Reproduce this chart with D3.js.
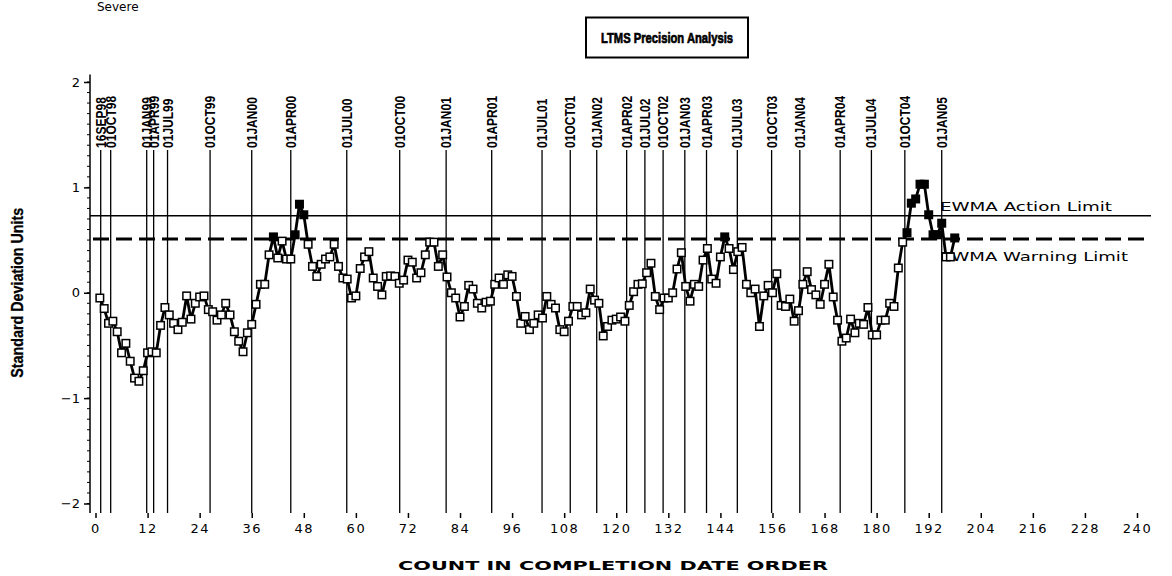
<!DOCTYPE html>
<html>
<head>
<meta charset="utf-8">
<script src="https://cdn.jsdelivr.net/npm/d3@7/dist/d3.min.js"></script>
<style>
  html, body { margin: 0; padding: 0; background: #fff; }
  svg { display: block; }
  .narrow { font-family: "Liberation Sans Narrow", "Arial Narrow", "Liberation Sans", Arial, sans-serif; font-weight: bold; }
  .wide { font-family: "DejaVu Sans", Verdana, sans-serif; }
</style>
</head>
<body>
<svg id="chart" width="1172" height="576"></svg>
<script>
// EWMA of standard deviation units, one value per test in completion order (count 1..198)
const ewmaValues = [
  -0.05, -0.15, -0.29, -0.27, -0.37, -0.57, -0.48, -0.65, -0.81, -0.84,
  -0.74, -0.57, -0.56, -0.57, -0.31, -0.14, -0.21, -0.29, -0.35, -0.28,
  -0.03, -0.25, -0.10, -0.04, -0.03, -0.16, -0.18, -0.26, -0.21, -0.10,
  -0.21, -0.37, -0.46, -0.56, -0.38, -0.30, -0.11, 0.08, 0.08, 0.36,
  0.53, 0.33, 0.49, 0.32, 0.32, 0.55, 0.84, 0.74, 0.46, 0.25,
  0.155, 0.27, 0.32, 0.34, 0.46, 0.25, 0.14, 0.13, -0.05, -0.03,
  0.23, 0.34, 0.39, 0.14, 0.06, -0.02, 0.155, 0.16, 0.155, 0.09,
  0.12, 0.31, 0.29, 0.14, 0.19, 0.36, 0.48, 0.48, 0.25, 0.36,
  0.15, 0.00, -0.05, -0.23, -0.13, 0.07, 0.035, -0.10, -0.145, -0.09,
  -0.08, 0.08, 0.14, 0.08, 0.17, 0.155, -0.035, -0.29, -0.225, -0.35,
  -0.29, -0.21, -0.24, -0.035, -0.11, -0.145, -0.35, -0.37, -0.27, -0.13,
  -0.13, -0.21, -0.19, 0.035, -0.07, -0.10, -0.41, -0.32, -0.26, -0.25,
  -0.23, -0.27, -0.12, 0.01, 0.08, 0.085, 0.19, 0.28, -0.035, -0.16,
  -0.05, -0.05, 0.00, 0.225, 0.38, 0.06, -0.08, 0.08, 0.06, 0.31,
  0.42, 0.13, 0.09, 0.34, 0.53, 0.42, 0.22, 0.39, 0.43, 0.08,
  0.00, 0.035, -0.32, -0.03, 0.07, 0.00, 0.18, -0.12, -0.13, -0.06,
  -0.27, -0.17, 0.08, 0.20, 0.03, -0.02, -0.11, 0.08, 0.27, -0.04,
  -0.26, -0.46, -0.43, -0.25, -0.38, -0.29, -0.30, -0.14, -0.40, -0.40,
  -0.26, -0.26, -0.10, -0.13, 0.235, 0.48, 0.57, 0.85, 0.89, 1.03,
  1.03, 0.74, 0.55, 0.55, 0.66, 0.34, 0.34, 0.52
];

// Calendar reference lines: label and position on the count axis
const dateLabels = ["16SEP98", "01OCT98", "01JAN99", "01APR99", "01JUL99", "01OCT99",
  "01JAN00", "01APR00", "01JUL00", "01OCT00", "01JAN01", "01APR01", "01JUL01",
  "01OCT01", "01JAN02", "01APR02", "01JUL02", "01OCT02", "01JAN03", "01APR03",
  "01JUL03", "01OCT03", "01JAN04", "01APR04", "01JUL04", "01OCT04", "01JAN05"];
const datePositions = [1.2, 3.5, 11.8, 13.4, 16.6, 26.4, 36.0, 45.0, 57.9, 70.1,
  80.8, 91.3, 102.9, 109.4, 115.5, 122.4, 126.6, 130.8, 135.8, 140.8, 147.9,
  155.8, 162.3, 171.6, 178.8, 186.5, 195.0];

// Control limits (standard deviation units)
const actionLimit = 0.73;
const warningLimit = 0.51;

// Axis ticks
const xTicks = d3.range(0, 241, 12);
const yTicks = [-2, -1, 0, 1, 2];
const yMinorTicks = d3.range(-20, 21).map(d => d / 10);

const svg = d3.select("#chart");

const x = d3.scaleLinear().domain([0, 240]).range([95.5, 1137]);
const y = d3.scaleLinear().domain([-2, 2]).range([503.5, 82]);

const frameLeft = 90, frameRight = 1151, frameBottom = 513;

// Top-left caption
svg.append("text")
  .attr("class", "wide")
  .attr("x", 97).attr("y", 11)
  .attr("font-size", 12)
  .attr("fill", "#000")
  .text("Severe");

// Title box
svg.append("rect")
  .attr("x", 586).attr("y", 17.5).attr("width", 162).attr("height", 40)
  .attr("fill", "none").attr("stroke", "#000").attr("stroke-width", 2);
svg.append("text")
  .attr("x", 667).attr("y", 43)
  .attr("text-anchor", "middle")
  .attr("font-family", "'Liberation Sans', Arial, sans-serif")
  .attr("font-weight", "bold")
  .attr("font-size", 15)
  .attr("stroke", "#000").attr("stroke-width", 0.7)
  .attr("textLength", 132).attr("lengthAdjust", "spacingAndGlyphs")
  .text("LTMS Precision Analysis");

// Y axis
const yAxis = d3.axisLeft(y).tickValues(yTicks).tickSize(6).tickPadding(4)
  .tickFormat(d => d < 0 ? "\u2212" + Math.abs(d) : String(d));
const gy = svg.append("g").attr("transform", `translate(${frameLeft},0)`).call(yAxis);
gy.select(".domain").remove();
gy.selectAll(".tick line").attr("stroke", "#000").attr("stroke-width", 1.5);
gy.selectAll(".tick text").attr("class", "wide").attr("font-size", 13).attr("fill", "#000");
gy.append("line")
  .attr("x1", 0).attr("x2", 0)
  .attr("y1", y(2.07)).attr("y2", frameBottom)
  .attr("stroke", "#000").attr("stroke-width", 1.5);
gy.selectAll(".minor")
  .data(yMinorTicks)
  .join("line")
  .attr("class", "minor")
  .attr("x1", -3).attr("x2", 0)
  .attr("y1", d => y(d)).attr("y2", d => y(d))
  .attr("stroke", "#000").attr("stroke-width", 1);

// Y axis title
svg.append("text")
  .attr("class", "narrow")
  .attr("transform", `translate(23,${y(0)}) rotate(-90)`)
  .attr("text-anchor", "middle")
  .attr("font-size", 16)
  .attr("stroke", "#000").attr("stroke-width", 0.3)
  .attr("textLength", 170).attr("lengthAdjust", "spacingAndGlyphs")
  .text("Standard Deviation Units");

// X axis
const xAxis = d3.axisBottom(x).tickValues(xTicks).tickSize(5).tickPadding(6);
const gx = svg.append("g").attr("transform", `translate(0,${frameBottom})`).call(xAxis);
gx.select(".domain").remove();
gx.selectAll(".tick line").attr("stroke", "#000").attr("stroke-width", 1.5);
gx.selectAll(".tick text").attr("class", "wide").attr("font-size", 13).attr("fill", "#000")
  .attr("letter-spacing", "1.5px");

svg.append("text")
  .attr("class", "wide")
  .attr("x", 613).attr("y", 570)
  .attr("text-anchor", "middle")
  .attr("font-weight", "bold")
  .attr("font-size", 13)
  .attr("textLength", 430).attr("lengthAdjust", "spacingAndGlyphs")
  .text("COUNT IN COMPLETION DATE ORDER");

// Calendar reference lines and labels
const refs = svg.append("g");
refs.selectAll("line")
  .data(datePositions)
  .join("line")
  .attr("x1", d => x(d)).attr("x2", d => x(d))
  .attr("y1", 150).attr("y2", frameBottom)
  .attr("stroke", "#000").attr("stroke-width", 1.3);
refs.selectAll("text")
  .data(dateLabels)
  .join("text")
  .attr("class", "narrow")
  .attr("font-size", 14)
  .attr("transform", (d, i) => `translate(${x(datePositions[i])},148) rotate(-90) scale(0.86,1)`)
  .attr("dy", "0.36em")
  .text(d => d);

// Control limit lines
svg.append("line")
  .attr("x1", frameLeft).attr("x2", frameRight)
  .attr("y1", y(actionLimit)).attr("y2", y(actionLimit))
  .attr("stroke", "#000").attr("stroke-width", 1.5);
svg.append("line")
  .attr("x1", frameLeft + 3).attr("x2", frameRight)
  .attr("y1", y(warningLimit)).attr("y2", y(warningLimit))
  .attr("stroke", "#000").attr("stroke-width", 3.2)
  .attr("stroke-dasharray", "16,7");

svg.append("text")
  .attr("class", "wide")
  .attr("x", 940).attr("y", y(actionLimit) - 5)
  .attr("font-size", 13)
  .attr("textLength", 172).attr("lengthAdjust", "spacingAndGlyphs")
  .text("EWMA Action Limit");
svg.append("text")
  .attr("class", "wide")
  .attr("x", 940).attr("y", y(warningLimit) + 22)
  .attr("font-size", 13)
  .attr("textLength", 188).attr("lengthAdjust", "spacingAndGlyphs")
  .text("EWMA Warning Limit");

// EWMA series
const pts = ewmaValues.map((v, i) => ({ count: i + 1, value: v }));
svg.append("path")
  .datum(pts)
  .attr("fill", "none")
  .attr("stroke", "#000")
  .attr("stroke-width", 2.8)
  .attr("stroke-linejoin", "round")
  .attr("d", d3.line().x(d => x(d.count)).y(d => y(d.value)));

const ms = 7.5;
svg.append("g")
  .selectAll("rect")
  .data(pts)
  .join("rect")
  .attr("x", d => x(d.count) - ms / 2)
  .attr("y", d => y(d.value) - ms / 2)
  .attr("width", ms).attr("height", ms)
  .attr("fill", d => d.value >= warningLimit ? "#000" : "#fff")
  .attr("stroke", "#000")
  .attr("stroke-width", 1.5);
</script>
</body>
</html>
